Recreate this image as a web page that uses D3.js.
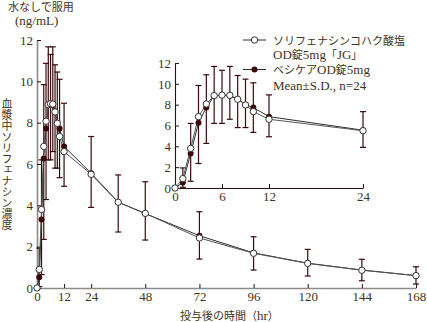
<!DOCTYPE html>
<html>
<head>
<meta charset="utf-8">
<script src="https://cdn.jsdelivr.net/npm/d3@7/dist/d3.min.js"></script>
<style>
  html, body { margin: 0; padding: 0; background: #fff; }
  svg { display: block; }
  text { font-family: "Liberation Serif", "Noto Sans CJK JP", serif; fill: #3e3520; }
</style>
</head>
<body>
<svg id="chart" width="427" height="322"></svg>
<script>
// Sampling times (hr)
const times = [0, 1, 2, 3, 4, 5, 6, 7, 8, 9, 10, 12, 24, 36, 48, 72, 96, 120, 144, 168];
// Mean plasma concentration (ng/mL), solifenacin succinate OD 5mg "JG"
const meanJG = [0, 0.9, 3.8, 6.85, 8.07, 8.87, 8.92, 8.9, 8.52, 7.97, 7.33, 6.6, 5.5, 4.15, 3.61, 2.42, 1.68, 1.19, 0.86, 0.6];
// Mean plasma concentration (ng/mL), Vesicare OD 5mg
const meanVes = [0, 0.52, 3.32, 6.27, 7.72, 8.85, 8.9, 8.85, 8.55, 8.0, 7.72, 6.85, 5.55, 4.15, 3.6, 2.53, 1.7, 1.2, 0.87, 0.6];
// Standard deviations: JG shown upward, Vesicare shown downward
const sdJG = [0, 1.03, 2.4, 2.99, 2.8, 2.8, 2.38, 2.77, 2.28, 2.48, 2.77, 2.34, 1.83, 1.32, 1.53, 1.27, 0.8, 0.68, 0.53, 0.43];
const sdVes = [0, 0.45, 2.67, 3.92, 3.44, 2.65, 2.7, 2.25, 2.75, 2.2, 2.38, 1.93, 1.65, 1.44, 1.28, 1.13, 0.83, 0.62, 0.52, 0.41];

const mainXTicks = [0, 12, 24, 48, 72, 96, 120, 144, 168];
const mainYTicks = [0, 2, 4, 6, 8, 10, 12];
const insetXTicks = [0, 6, 12, 24];
const insetYTicks = [0, 2, 4, 6, 8, 10, 12];

const legendJG = ["ソリフェナシンコハク酸塩", "OD錠5mg「JG」"];
const legendVes = "ベシケアOD錠5mg";
const legendNote = "Mean±S.D., n=24";
const yUnitLines = ["水なしで服用", "(ng/mL)"];
const yTitle = "血漿中ソリフェナシン濃度";
const xTitle = "投与後の時間（hr）";

const barColor = "#3a0b0b";
const dotColor = "#3a0a0a";
const lineColor = "#2e2e2e";
const openStroke = "#333";

const svg = d3.select("#chart");

// Render mixed CJK / Latin text with the CJK runs slightly smaller
function mixedText(sel, str, latinSize, cjkSize) {
  const runs = str.match(/([\u3000-\u30ff\u4e00-\u9fff\uff00-\uffef]+|[^\u3000-\u30ff\u4e00-\u9fff\uff00-\uffef]+)/g) || [];
  runs.forEach(r => {
    const isCJK = /[\u3000-\u30ff\u4e00-\u9fff\uff00-\uffef]/.test(r);
    sel.append("tspan").attr("font-size", isCJK ? cjkSize : latinSize).text(r);
  });
}

const data = times.map((t, i) => ({ t, jg: meanJG[i], ves: meanVes[i], sdU: sdJG[i], sdL: sdVes[i] }));

function drawPanel(g, x, y, rows, opts) {
  // error bars
  const bars = g.append("g");
  rows.forEach(d => {
    const cx = x(d.t);
    const top = y(d.jg + d.sdU), bot = y(Math.max(0, d.ves - d.sdL));
    if (d.sdU > 0) {
      bars.append("line").attr("x1", cx).attr("x2", cx).attr("y1", top).attr("y2", y(d.jg))
        .attr("stroke", barColor).attr("stroke-width", 1.2);
      bars.append("line").attr("x1", cx - 3).attr("x2", cx + 3).attr("y1", top).attr("y2", top)
        .attr("stroke", barColor).attr("stroke-width", 1.2);
    }
    if (d.sdL > 0) {
      bars.append("line").attr("x1", cx).attr("x2", cx).attr("y1", y(d.ves)).attr("y2", bot)
        .attr("stroke", barColor).attr("stroke-width", 1.2);
      bars.append("line").attr("x1", cx - 3).attr("x2", cx + 3).attr("y1", bot).attr("y2", bot)
        .attr("stroke", barColor).attr("stroke-width", 1.2);
    }
  });
  const lineVes = d3.line().x(d => x(d.t)).y(d => y(d.ves));
  const lineJG = d3.line().x(d => x(d.t)).y(d => y(d.jg));
  g.append("path").attr("d", lineVes(rows)).attr("fill", "none").attr("stroke", lineColor).attr("stroke-width", 1);
  g.append("path").attr("d", lineJG(rows)).attr("fill", "none").attr("stroke", "#555").attr("stroke-width", 1);
  g.selectAll(".ves").data(rows).join("circle")
    .attr("cx", d => x(d.t)).attr("cy", d => y(d.ves)).attr("r", 3)
    .attr("fill", dotColor);
  g.selectAll(".jg").data(rows).join("circle")
    .attr("cx", d => x(d.t)).attr("cy", d => y(d.jg)).attr("r", 3.2)
    .attr("fill", "#fff").attr("stroke", openStroke).attr("stroke-width", 1);
}

// ---- main panel ----
const x = d3.scaleLinear().domain([0, 168]).range([37, 416]);
const y = d3.scaleLinear().domain([0, 12]).range([288, 40]);

const gx = svg.append("g").attr("transform", `translate(0,${y(0)})`)
  .call(d3.axisBottom(x).tickValues(mainXTicks).tickSize(-4).tickSizeOuter(0).tickPadding(4));
const gy = svg.append("g").attr("transform", `translate(${x(0)},0)`)
  .call(d3.axisLeft(y).tickValues(mainYTicks).tickSize(-4).tickSizeOuter(0).tickPadding(4));
[gx, gy].forEach(a => {
  a.select(".domain").attr("stroke", "#8a8a8a").attr("stroke-width", 1.6);
  a.selectAll(".tick line").attr("stroke", "#2a1010");
  a.selectAll(".tick text").attr("font-size", 13).attr("font-family", "Liberation Serif").attr("fill", "#3e3520");
});

drawPanel(svg.append("g"), x, y, data, {});

// ---- inset panel ----
const xi = d3.scaleLinear().domain([0, 24]).range([175, 363]);
const yi = d3.scaleLinear().domain([0, 12]).range([188, 63]);
const gxi = svg.append("g").attr("transform", `translate(0,${yi(0)})`)
  .call(d3.axisBottom(xi).tickValues(insetXTicks).tickSize(-4).tickSizeOuter(0).tickPadding(4));
const gyi = svg.append("g").attr("transform", `translate(${xi(0)},0)`)
  .call(d3.axisLeft(yi).tickValues(insetYTicks).tickSize(-4).tickSizeOuter(0).tickPadding(4));
[gxi, gyi].forEach(a => {
  a.select(".domain").attr("stroke", "#2a1010").attr("stroke-width", 1.1);
  a.selectAll(".tick line").attr("stroke", "#2a1010");
  a.selectAll(".tick text").attr("font-size", 13).attr("font-family", "Liberation Serif").attr("fill", "#3e3520");
});
drawPanel(svg.append("g"), xi, yi, data.filter(d => d.t <= 24), {});

// ---- legend ----
const lg = svg.append("g");
lg.append("line").attr("x1", 243).attr("x2", 266).attr("y1", 40).attr("y2", 40).attr("stroke", lineColor);
lg.append("circle").attr("cx", 254.5).attr("cy", 40).attr("r", 3.2).attr("fill", "#fff").attr("stroke", openStroke);
mixedText(lg.append("text").attr("x", 273).attr("y", 44.5), legendJG[0], 13, 11);
mixedText(lg.append("text").attr("x", 273).attr("y", 59), legendJG[1], 13, 11);
lg.append("line").attr("x1", 243).attr("x2", 266).attr("y1", 69.5).attr("y2", 69.5).attr("stroke", lineColor);
lg.append("circle").attr("cx", 254.5).attr("cy", 69.5).attr("r", 3).attr("fill", dotColor);
mixedText(lg.append("text").attr("x", 273).attr("y", 74), legendVes, 13, 11);
mixedText(lg.append("text").attr("x", 273).attr("y", 89.5), legendNote, 13, 11);

// ---- titles ----
mixedText(svg.append("text").attr("x", 8).attr("y", 11), yUnitLines[0], 13, 11);
svg.append("text").attr("x", 15).attr("y", 25).attr("font-size", 13).text(yUnitLines[1]);
svg.append("text").attr("x", 6).attr("y", 98)
  .attr("font-size", 11).attr("font-family", "Noto Sans CJK JP")
  .style("writing-mode", "vertical-rl").style("text-orientation", "upright")
  .text(yTitle);
mixedText(svg.append("text").attr("x", 180).attr("y", 319.5), xTitle, 13, 11);
</script>
</body>
</html>
